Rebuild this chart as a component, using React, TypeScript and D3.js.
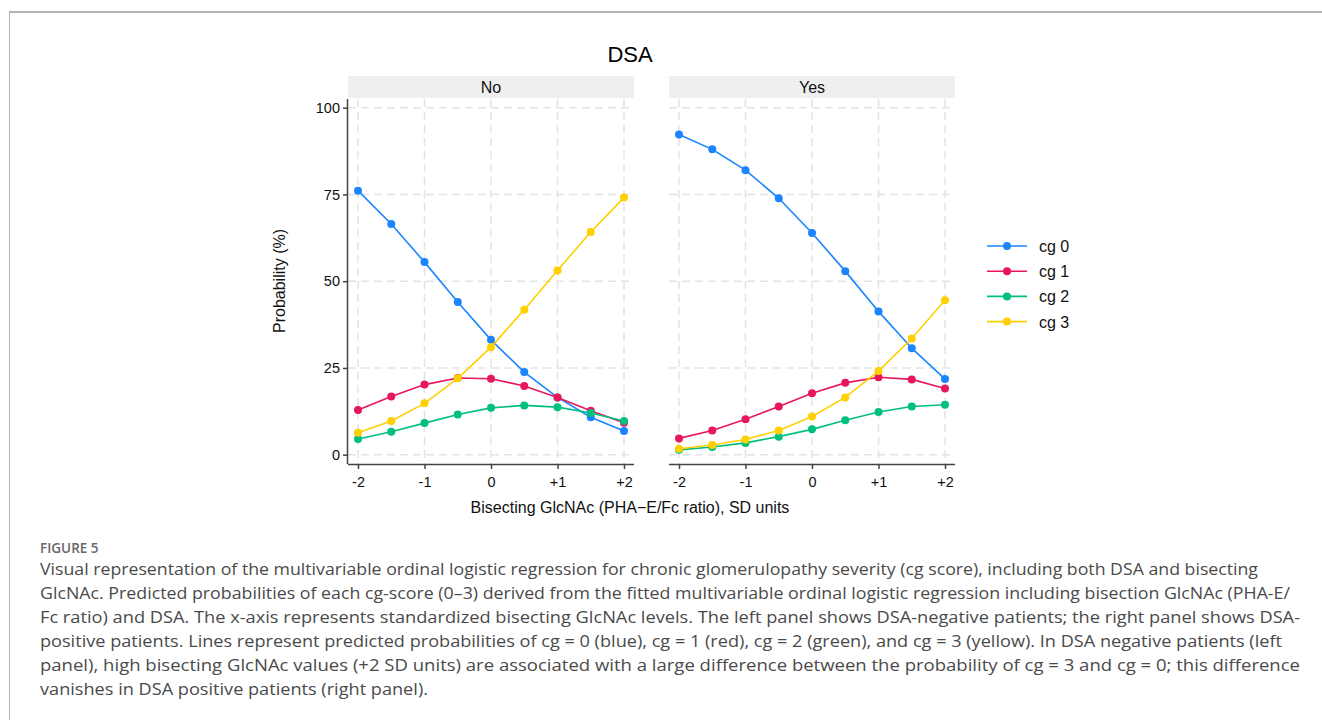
import React, { useEffect, useRef } from 'react';
import * as d3 from 'd3';

// predicted probabilities (%)
const sdUnits = [-2, -1.5, -1, -0.5, 0, 0.5, 1, 1.5, 2];
const xTicks = [-2, -1, 0, 1, 2];
const xTickLabels = ['-2', '-1', '0', '+1', '+2'];
const yTicks = [0, 25, 50, 75, 100];
const panels = ['No', 'Yes'];
const seriesNames = ['cg 0', 'cg 1', 'cg 2', 'cg 3'];
const seriesColors = ['#1a85ff', '#e8175d', '#00bf7f', '#ffd000'];

const noCg0 = [76.1, 66.5, 55.5, 44.0, 33.1, 23.8, 16.5, 10.8, 6.8];
const noCg1 = [12.9, 16.8, 20.2, 22.1, 21.9, 19.8, 16.5, 12.7, 9.2];
const noCg2 = [4.5, 6.6, 9.1, 11.6, 13.5, 14.2, 13.7, 12.0, 9.7];
const noCg3 = [6.3, 9.7, 14.8, 22.0, 31.0, 41.8, 53.1, 64.2, 74.1];

const yesCg0 = [92.3, 88.0, 82.0, 73.9, 63.9, 52.9, 41.3, 30.7, 21.8];
const yesCg1 = [4.7, 7.0, 10.2, 13.9, 17.7, 20.7, 22.3, 21.7, 19.1];
const yesCg2 = [1.4, 2.2, 3.4, 5.2, 7.3, 9.9, 12.3, 13.9, 14.4];
const yesCg3 = [1.7, 2.8, 4.4, 7.0, 11.0, 16.5, 24.1, 33.5, 44.5];

const captionTitle = 'FIGURE 5';
const captionLines = [
  'Visual representation of the multivariable ordinal logistic regression for chronic glomerulopathy severity (cg score), including both DSA and bisecting',
  'GlcNAc. Predicted probabilities of each cg-score (0\u20133) derived from the fitted multivariable ordinal logistic regression including bisection GlcNAc (PHA-E/',
  'Fc ratio) and DSA. The x-axis represents standardized bisecting GlcNAc levels. The left panel shows DSA-negative patients; the right panel shows DSA-',
  'positive patients. Lines represent predicted probabilities of cg = 0 (blue), cg = 1 (red), cg = 2 (green), and cg = 3 (yellow). In DSA negative patients (left',
  'panel), high bisecting GlcNAc values (+2 SD units) are associated with a large difference between the probability of cg = 3 and cg = 0; this difference',
  'vanishes in DSA positive patients (right panel).',
];
const captionWidths = [1218, 1250, 1260, 1242, 1260, 388];

export default function App() {
  const ref = useRef(null);

  useEffect(() => {
    const W = 1322, H = 720;
    const svg = d3.select(ref.current);
    svg.selectAll('*').remove();
    svg.attr('width', W).attr('height', H);

    const font = '"Liberation Sans", Arial, sans-serif';

    // page frame
    svg.append('rect').attr('width', W).attr('height', H).attr('fill', '#fff');
    svg.append('line').attr('x1', 9).attr('x2', W).attr('y1', 12).attr('y2', 12)
      .attr('stroke', '#b4b4b8').attr('stroke-width', 2);
    svg.append('line').attr('x1', 9.5).attr('x2', 9.5).attr('y1', 12).attr('y2', H)
      .attr('stroke', '#b4b4b8').attr('stroke-width', 1);

    svg.append('text').attr('x', 630).attr('y', 62).attr('text-anchor', 'middle')
      .attr('font-family', font).attr('font-size', 22).attr('fill', '#000').text('DSA');

    const panelLeft = [348, 669];
    const panelW = 286;
    const top = 99, bottom = 464;

    const y = d3.scaleLinear().domain([0, 100]).range([454.7, 107.7]);

    const panelData = [
      [noCg0, noCg1, noCg2, noCg3],
      [yesCg0, yesCg1, yesCg2, yesCg3],
    ];

    panels.forEach((name, p) => {
      const x0 = panelLeft[p];
      const x = d3.scaleLinear().domain([-2, 2]).range([x0 + 10, x0 + panelW - 10]);
      const g = svg.append('g');

      // strip
      g.append('rect').attr('x', x0).attr('y', 76).attr('width', panelW).attr('height', 22)
        .attr('fill', '#efefef');
      g.append('text').attr('x', x0 + panelW / 2).attr('y', 93).attr('text-anchor', 'middle')
        .attr('font-family', font).attr('font-size', 16).attr('fill', '#111').text(name);

      // grid
      g.selectAll('.hg').data(yTicks).enter().append('line')
        .attr('x1', x0).attr('x2', x0 + panelW)
        .attr('y1', d => y(d)).attr('y2', d => y(d))
        .attr('stroke', '#e3e3e3').attr('stroke-width', 1.5).attr('stroke-dasharray', '8,5');
      g.selectAll('.vg').data(xTicks).enter().append('line')
        .attr('x1', d => x(d)).attr('x2', d => x(d))
        .attr('y1', top).attr('y2', bottom)
        .attr('stroke', '#e3e3e3').attr('stroke-width', 1.5).attr('stroke-dasharray', '8,5');

      // x axis
      const xAxis = d3.axisBottom(x).tickValues(xTicks)
        .tickFormat((d, i) => xTickLabels[i]).tickSize(5).tickSizeOuter(0);
      const ax = g.append('g').attr('transform', `translate(0,${bottom})`).call(xAxis);
      ax.select('.domain').attr('d', `M${x0},0.5H${x0 + panelW}`).attr('stroke', '#444').attr('stroke-width', 1.5);
      ax.selectAll('.tick line').attr('stroke', '#444').attr('stroke-width', 1.5);
      ax.selectAll('.tick text').attr('font-family', font).attr('font-size', 14.5)
        .attr('fill', '#111').attr('dy', '1.05em');

      if (p === 0) {
        const yAxis = d3.axisLeft(y).tickValues(yTicks).tickSize(5).tickSizeOuter(0);
        const ay = g.append('g').attr('transform', `translate(${x0},0)`).call(yAxis);
        ay.select('.domain').attr('d', `M-0.5,${top}V${bottom}`).attr('stroke', '#444').attr('stroke-width', 1.5);
        ay.selectAll('.tick line').attr('stroke', '#444').attr('stroke-width', 1.5);
        ay.selectAll('.tick text').attr('font-family', font).attr('font-size', 14.5).attr('fill', '#111');
      }

      const line = d3.line<number>().x((d, i) => x(sdUnits[i])).y(d => y(d)).curve(d3.curveLinear);
      panelData[p].forEach((vals, s) => {
        g.append('path').attr('d', line(vals)).attr('fill', 'none')
          .attr('stroke', seriesColors[s]).attr('stroke-width', 1.6);
        g.selectAll(`.pt${s}`).data(vals).enter().append('circle')
          .attr('cx', (d, i) => x(sdUnits[i])).attr('cy', d => y(d)).attr('r', 4)
          .attr('fill', seriesColors[s]);
      });
    });

    // axis titles
    svg.append('text').attr('transform', 'translate(285,281) rotate(-90)').attr('text-anchor', 'middle')
      .attr('font-family', font).attr('font-size', 16).attr('fill', '#111').text('Probability (%)');
    svg.append('text').attr('x', 630).attr('y', 513).attr('text-anchor', 'middle')
      .attr('font-family', font).attr('font-size', 16).attr('fill', '#111')
      .text('Bisecting GlcNAc (PHA\u2212E/Fc ratio), SD units');

    // legend
    const lg = svg.append('g').attr('transform', 'translate(987,246)');
    seriesNames.forEach((n, i) => {
      const row = lg.append('g').attr('transform', `translate(0,${i * 25.2})`);
      row.append('line').attr('x1', 0).attr('x2', 40).attr('stroke', seriesColors[i]).attr('stroke-width', 1.6);
      row.append('circle').attr('cx', 20).attr('r', 4).attr('fill', seriesColors[i]);
      row.append('text').attr('x', 52).attr('y', 6).attr('font-family', font).attr('font-size', 16)
        .attr('fill', '#111').text(n);
    });

    // caption
    const capFont = '"Open Sans", "Noto Sans", sans-serif';
    svg.append('text').attr('x', 40).attr('y', 553).attr('font-family', capFont)
      .attr('font-size', 13.5).attr('font-weight', 600).attr('fill', '#666').text(captionTitle);
    svg.selectAll('.cap').data(captionLines).enter().append('text')
      .attr('x', 40).attr('y', (d, i) => 575 + i * 24)
      .attr('font-family', capFont).attr('font-size', 16.5).attr('fill', '#4a4a4a')
      .attr('textLength', (d, i) => captionWidths[i]).attr('lengthAdjust', 'spacingAndGlyphs')
      .text(d => d);
  }, []);

  return <svg ref={ref} style={{ position: 'absolute', left: 0, top: 0 }} />;
}
